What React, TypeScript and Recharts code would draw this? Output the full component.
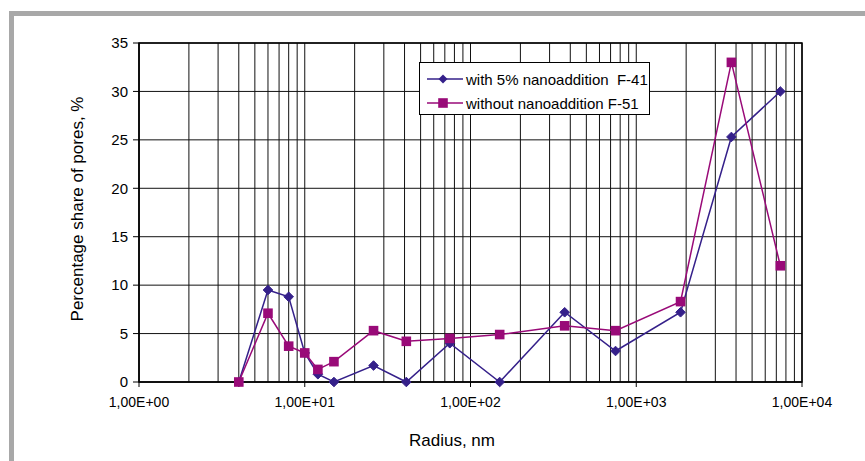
import React from 'react';
import { LineChart, Line, XAxis, YAxis, CartesianGrid } from 'recharts';

const radius = [4, 6, 8, 10, 12, 15, 26, 41, 75, 150, 370, 750, 1850, 3750, 7400];
const withNano = [0, 9.5, 8.8, 3.0, 0.8, 0, 1.7, 0, 4.0, 0, 7.2, 3.2, 7.2, 25.3, 30.0];
const withoutNano = [0, 7.1, 3.7, 3.0, 1.3, 2.1, 5.3, 4.2, 4.5, 4.9, 5.8, 5.3, 8.3, 33.0, 12.0];
const xTicks = [1, 10, 100, 1000, 10000];
const yTicks = [0, 5, 10, 15, 20, 25, 30, 35];
const minorMultipliers = [1, 2, 3, 4, 5, 6, 7, 8, 9];
const seriesNames = ['with 5% nanoaddition  F-41', 'without nanoaddition F-51'];

const BLUE = '#35208a';
const MAGENTA = '#990a78';

const data = radius.map((r, i) => ({ r, f41: withNano[i], f51: withoutNano[i] }));
const gridX: number[] = [];
[1, 10, 100, 1000].forEach((d) => minorMultipliers.forEach((m) => gridX.push(d * m)));
gridX.push(10000);

const fmt = (v: number) => {
  const [m, e] = v.toExponential(2).split('e');
  const sign = e[0];
  const digits = e.slice(1).padStart(2, '0');
  return m.replace('.', ',') + 'E' + sign + digits;
};

const Diamond = (props: any) => {
  const { cx, cy } = props;
  if (cx == null || cy == null) return null;
  const s = 4.8;
  return <path d={`M${cx},${cy - s}L${cx + s},${cy}L${cx},${cy + s}L${cx - s},${cy}Z`} fill={BLUE} stroke={BLUE} />;
};
const Square = (props: any) => {
  const { cx, cy } = props;
  if (cx == null || cy == null) return null;
  const s = 4.8;
  return <rect x={cx - s} y={cy - s} width={2 * s} height={2 * s} fill={MAGENTA} />;
};

const font = '"Liberation Sans", Arial, sans-serif';

export default function App() {
  return (
    <div style={{ position: 'absolute', left: 0, top: 0, width: 865, height: 461, overflow: 'hidden', background: '#fff', fontFamily: font }}>
      <div style={{ position: 'absolute', left: 9, top: 11, width: 2000, height: 2000, borderLeft: '5px solid #a8a8a8', borderTop: '5px solid #a8a8a8' }} />
      <div style={{ position: 'absolute', left: 0, top: 0 }}>
        <LineChart width={865} height={461} data={data} margin={{ top: 43, right: 63, left: 79, bottom: 49 }}>
          <CartesianGrid
            stroke="#111"
            strokeWidth={1}
            verticalValues={gridX}
            horizontalValues={yTicks}
            fill="none"
          />
          <XAxis
            dataKey="r"
            type="number"
            scale="log"
            domain={[1, 10000]}
            ticks={xTicks}
            interval={0}
            allowDataOverflow
            tickFormatter={fmt}
            height={30}
            tickSize={5}
            tickMargin={10}
            stroke="#000"
            tick={{ fill: '#000', fontSize: 14, fontFamily: font }}
          />
          <YAxis
            type="number"
            domain={[0, 35]}
            ticks={yTicks}
            interval={0}
            width={60}
            tickSize={6}
            tickMargin={5}
            stroke="#000"
            tick={{ fill: '#000', fontSize: 15, fontFamily: font }}
          />
          <Line dataKey="f41" name={seriesNames[0]} stroke={BLUE} strokeWidth={1.5} dot={<Diamond />} isAnimationActive={false} />
          <Line dataKey="f51" name={seriesNames[1]} stroke={MAGENTA} strokeWidth={1.5} dot={<Square />} isAnimationActive={false} />
          <rect x={139} y={43} width={663} height={339} fill="none" stroke="#000" strokeWidth={1.5} />
          <text x={79} y={209} transform="rotate(-90 79 209)" textAnchor="middle" dominantBaseline="middle" fontSize={17} fontFamily={font} fill="#000">
            Percentage share of pores, %
          </text>
          <text x={452} y={446} textAnchor="middle" fontSize={17} fontFamily={font} fill="#000">
            Radius, nm
          </text>
        </LineChart>
      </div>
      <div style={{ position: 'absolute', left: 419, top: 62, width: 229, height: 51, border: '1px solid #000', background: '#fff', fontSize: 15, fontFamily: font, color: '#000' }}>
        {seriesNames.map((n, i) => (
          <div key={n} style={{ position: 'absolute', left: 7, top: i === 0 ? 6 : 30, height: 20, display: 'flex', alignItems: 'center', whiteSpace: 'pre' }}>
            <svg width={36} height={12} style={{ marginRight: 3 }}>
              <line x1={0} y1={6} x2={36} y2={6} stroke={i === 0 ? BLUE : MAGENTA} strokeWidth={1.5} />
              {i === 0 ? (
                <path d="M16,1.5L20.5,6L16,10.5L11.5,6Z" fill={BLUE} />
              ) : (
                <rect x={11.2} y={1.2} width={9.6} height={9.6} fill={MAGENTA} />
              )}
            </svg>
            <span>{n}</span>
          </div>
        ))}
      </div>
    </div>
  );
}
